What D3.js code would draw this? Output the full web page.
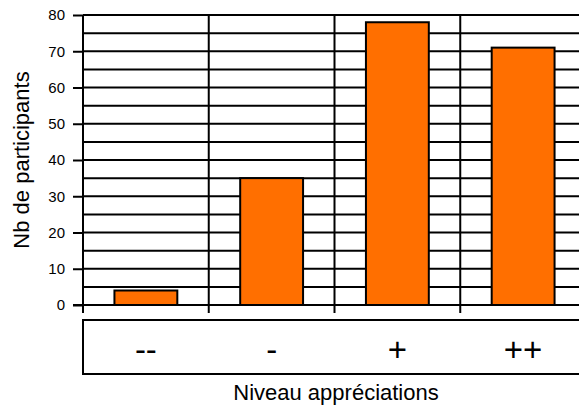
<!DOCTYPE html>
<html>
<head>
<meta charset="utf-8">
<script src="https://cdn.jsdelivr.net/npm/d3@7"></script>
<style>
  body { margin: 0; background: #fff; }
  text { font-family: "Liberation Sans", Arial, sans-serif; fill: #000; }
</style>
</head>
<body>
<script>
// data
var categories = ["--", "-", "+", "++"];
var values = [4, 35, 78, 71];
var yTicks = [0, 10, 20, 30, 40, 50, 60, 70, 80];
var gridSteps = d3.range(5, 85, 5);

var width = 579, height = 407;

var svg = d3.select("body").append("svg")
    .attr("width", width)
    .attr("height", height);

var x = d3.scaleBand()
    .domain(categories)
    .range([83, 586])
    .paddingInner(0.5)
    .paddingOuter(0.25);

var y = d3.scaleLinear()
    .domain([0, 80])
    .range([305, 15]);

// horizontal grid lines every 5
svg.append("g")
  .selectAll("line")
  .data(gridSteps)
  .enter().append("line")
    .attr("x1", 83)
    .attr("x2", width)
    .attr("y1", function(d) { return y(d); })
    .attr("y2", function(d) { return y(d); })
    .attr("stroke", "#000")
    .attr("stroke-width", 2);

// vertical category separators
var bounds = categories.map(function(c) { return x(c) - x.step() * x.paddingInner() / 2; });
svg.append("g")
  .selectAll("line")
  .data(bounds.slice(1))
  .enter().append("line")
    .attr("x1", function(d) { return d; })
    .attr("x2", function(d) { return d; })
    .attr("y1", y(80))
    .attr("y2", 313)
    .attr("stroke", "#000")
    .attr("stroke-width", 2);

// bars
svg.append("g")
  .selectAll("rect")
  .data(values)
  .enter().append("rect")
    .attr("x", function(d, i) { return x(categories[i]); })
    .attr("width", x.bandwidth())
    .attr("y", function(d) { return y(d); })
    .attr("height", function(d) { return y(0) - y(d); })
    .attr("fill", "#ff6f00")
    .attr("stroke", "#000")
    .attr("stroke-width", 2);

// y axis
var yAxis = svg.append("g")
    .attr("transform", "translate(83,0)")
    .call(d3.axisLeft(y).tickValues(yTicks).tickSize(10).tickPadding(8));
yAxis.select(".domain").remove();
yAxis.selectAll(".tick line").attr("stroke-width", 2);
yAxis.selectAll(".tick text")
    .style("font-size", "15px")
    .style("font-family", "Liberation Sans, Arial, sans-serif");
svg.append("line")
    .attr("x1", 83).attr("x2", 83)
    .attr("y1", y(80)).attr("y2", 313)
    .attr("stroke", "#000").attr("stroke-width", 2);

// zero line
svg.append("line")
    .attr("x1", 73).attr("x2", width)
    .attr("y1", y(0)).attr("y2", y(0))
    .attr("stroke", "#000").attr("stroke-width", 2);

// category label box
svg.append("rect")
    .attr("x", 83).attr("y", 320)
    .attr("width", 510).attr("height", 54)
    .attr("fill", "none")
    .attr("stroke", "#000").attr("stroke-width", 2);

svg.append("g")
  .selectAll("text")
  .data(categories)
  .enter().append("text")
    .attr("x", function(d) { return x(d) + x.bandwidth() / 2; })
    .attr("y", 361)
    .attr("text-anchor", "middle")
    .style("font-size", "33px")
    .text(function(d) { return d; });

// axis titles
svg.append("text")
    .attr("x", 336)
    .attr("y", 400)
    .attr("text-anchor", "middle")
    .style("font-size", "22px")
    .text("Niveau appréciations");

svg.append("text")
    .attr("transform", "translate(29,160) rotate(-90)")
    .attr("text-anchor", "middle")
    .style("font-size", "22px")
    .text("Nb de participants");
</script>
</body>
</html>
